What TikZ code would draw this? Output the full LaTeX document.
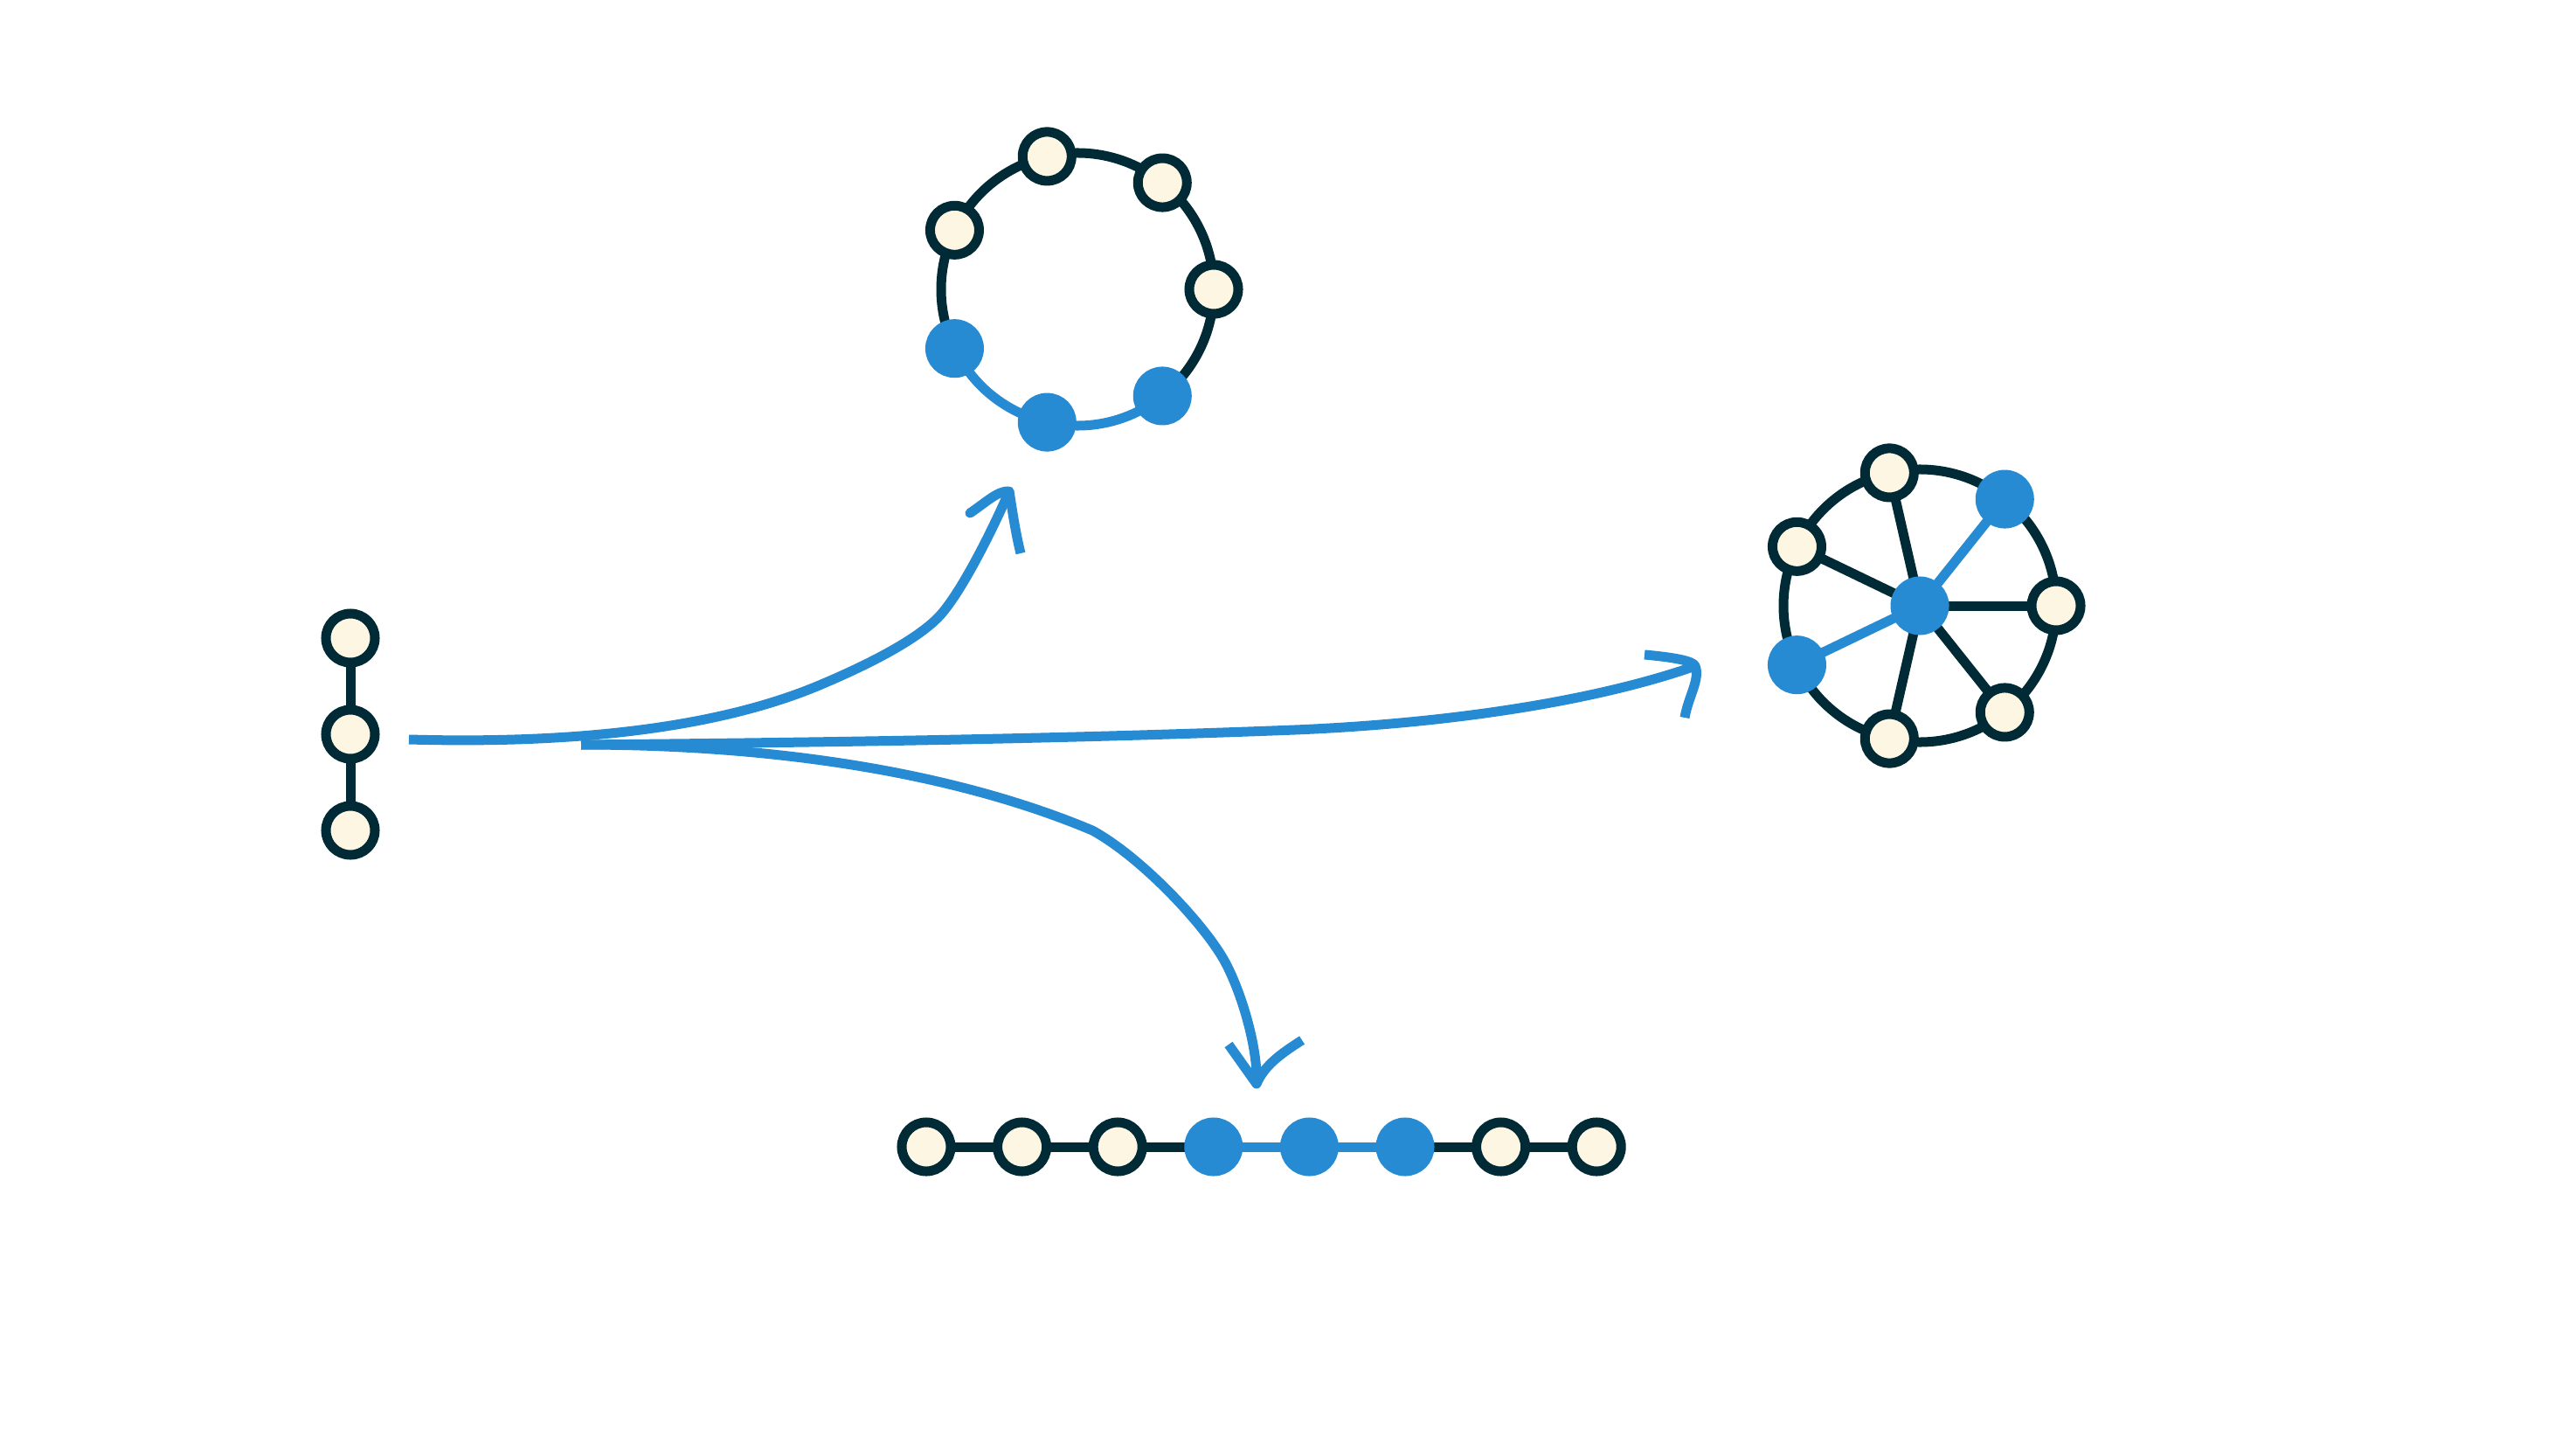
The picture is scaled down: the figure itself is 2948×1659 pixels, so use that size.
\documentclass[tikz,border=0pt]{standalone}
\usetikzlibrary{backgrounds}
\definecolor{base03}{HTML}{002B36}
\definecolor{base3}{HTML}{FDF6E3}
\definecolor{sblue}{HTML}{268BD2}

\begin{document}
\begin{tikzpicture}[x=0.01cm,y=0.01cm,
    vtx/.style={circle,draw=base03,fill=base3,line width=0.11cm,minimum size=0.56cm,inner sep=0pt},
    hit/.style={vtx,draw=sblue,fill=sblue},
    wire/.style={draw=base03,line width=0.11cm},
    hotwire/.style={wire,draw=sblue},
    flow/.style={draw=sblue,line width=0.11cm,line join=round}]
				\useasboundingbox (0,0) rectangle (2948,1659);

				\foreach \i/\y in {1/929,2/819,3/709}
					\node[vtx] (q\i) at (401,\y) {};

				\coordinate (ring) at (1233,1328);
				\foreach \k/\s in {0/vtx,1/vtx,2/vtx,3/vtx,4/hit,5/hit,6/hit}
					\path (ring) ++(\k*360/7:156) node[\s] (r\k) {};

				\node[hit] (hub) at (2197,966) {};
				\foreach \k/\s in {0/vtx,1/hit,2/vtx,3/vtx,4/hit,5/vtx,6/vtx}
					\path (hub) ++(\k*360/7:156) node[\s] (w\k) {};

				\foreach \i/\s in {1/vtx,2/vtx,3/vtx,4/hit,5/hit,6/hit,7/vtx,8/vtx}
					\node[\s] (p\i) at ({1060+(\i-1)*109.6},347) {};

				\begin{scope}[on background layer]
					\fill[white] (0,0) rectangle (2948,1659);
					\draw[wire] (q1.center) -- (q2.center) -- (q3.center);
					\foreach \a/\b/\s in {0/1/wire,1/2/wire,2/3/wire,3/4/wire,4/5/hotwire,5/6/hotwire,6/0/wire}
						\draw[\s] (r\a.center) to[bend right=25.7,looseness=0.9] (r\b.center);
					\foreach \a/\b in {0/1,1/2,2/3,3/4,4/5,5/6,6/0}
						\draw[wire] (w\a.center) to[bend right=25.7,looseness=0.9] (w\b.center);
					\foreach \k/\s in {0/wire,1/hotwire,2/wire,3/wire,4/hotwire,5/wire,6/wire}
						\draw[\s] (hub.center) -- (w\k.center);
					\foreach \a/\b/\s in {1/2/wire,2/3/wire,3/4/wire,4/5/hotwire,5/6/hotwire,6/7/wire,7/8/wire}
						\draw[\s] (p\a.center) -- (p\b.center);
				\end{scope}

				\coordinate (src) at (468,813);
				\coordinate (fork) at (665,807);
				\coordinate (tipring) at (1155,1097);
				\coordinate (tipwheel) at (1940,897);
				\coordinate (tipline) at (1438,419);

				\draw[flow] (src) .. controls (720,806) and (860,842) .. (940,876)
					.. controls (980,893) and (1043,922) .. (1073,952)
					.. controls (1098,977) and (1135,1051) .. (tipring);
				\draw[flow,line cap=round] (tipring) .. controls (1142,1098) and (1128,1084) .. (1110,1072);
				\draw[flow] (tipring) .. controls (1158,1078) and (1162,1050) .. (1168,1026);

				\draw[flow] (fork) .. controls (1000,810) and (1250,815) .. (1482,824)
					.. controls (1650,831) and (1820,855) .. (tipwheel);
				\draw[flow] (1882,910) .. controls (1915,907) and (1938,903) .. (tipwheel)
					.. controls (1946,882) and (1932,862) .. (1928,838);

				\draw[flow] (fork) .. controls (900,807) and (1100,772) .. (1250,709)
					.. controls (1305,679) and (1375,605) .. (1400,562)
					.. controls (1420,527) and (1440,460) .. (tipline);
				\draw[flow] (1406,464) -- (tipline) .. controls (1447,440) and (1465,453) .. (1490,469);
\end{tikzpicture}
\end{document}
